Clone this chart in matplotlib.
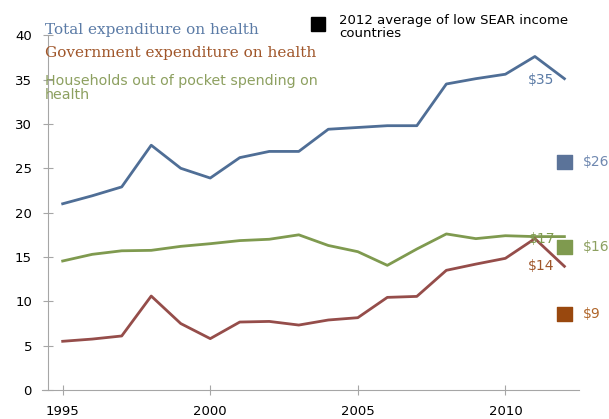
import matplotlib.pyplot as plt
plt.rcParams["font.family"] = "DejaVu Sans"

# Leta in vrednosti (USD na prebivalca)
years = list(range(1995, 2013))
total = [21.0, 21.9, 22.9, 27.6, 25.0, 23.9, 26.2, 26.9, 26.9, 29.4,
         29.6, 29.8, 29.8, 34.5, 35.1, 35.6, 37.6, 35.1]
government = [5.5, 5.75, 6.1, 10.6, 7.5, 5.8, 7.67, 7.74, 7.33, 7.9,
              8.16, 10.45, 10.56, 13.5, 14.2, 14.85, 17.07, 13.95]
households = [14.55, 15.3, 15.7, 15.75, 16.2, 16.5, 16.85, 17.0, 17.5, 16.3,
              15.6, 14.06, 15.9, 17.6, 17.07, 17.4, 17.3, 17.3]

# Povprečja 2012 za nizkodohodkovne države SEAR
sear_year = 2012
sear_values = [25.7, 16.1, 8.6]
sear_labels = ["$26", "$16", "$9"]

c_total = "#4F6E96"
c_gov = "#954D4A"
c_hh = "#7F9A4F"
c_total_txt = "#5B7BA6"
c_gov_txt = "#A0562A"
c_hh_txt = "#8DA060"
sq_colors = ["#5B7399", "#7F9A4F", "#99480E"]
lbl_colors = ["#6F88B0", "#8DA060", "#B0662A"]
grey = "#A6A6A6"

fig = plt.figure(figsize=(6.09, 4.19), dpi=100)
ax = fig.add_axes([0.069, 0.069, 0.882, 0.847])

ax.plot(years, total, color=c_total, lw=2)
ax.plot(years, households, color=c_hh, lw=2)
ax.plot(years, government, color=c_gov, lw=2)

ax.scatter([sear_year] * 3, sear_values, marker="s", s=105, c=sq_colors, zorder=3)
for v, lab, col in zip(sear_values, sear_labels, lbl_colors):
    ax.text(sear_year + 0.62, v, lab, color=col, fontsize=10, va="center", ha="left")

# Oznake zadnjih vrednosti
ax.text(2010.75, 35.0, "$35", color=c_total_txt, fontsize=10, va="center")
ax.text(2010.8, 17.0, "$17", color=c_hh, fontsize=10, va="center")
ax.text(2010.75, 14.0, "$14", color=c_gov_txt, fontsize=10, va="center")

ax.set_xlim(1994.3, 2012.5)
ax.set_ylim(0, 40)
ax.set_xticks([1995, 2000, 2005, 2010])
ax.set_yticks(range(0, 41, 5))
for s in ["top", "right"]:
    ax.spines[s].set_visible(False)
ax.spines["left"].set_position(("data", 1994.5))
for s in ["left", "bottom"]:
    ax.spines[s].set_color(grey)
ax.tick_params(direction="inout", length=7, color=grey, labelsize=9.5,
               colors=grey, labelcolor="black")
ax.tick_params(axis="y", pad=8)
ax.tick_params(axis="x", pad=7)

# Legenda kot besedilo
fig.text(45 / 609, 1 - 30 / 419, "Total expenditure on health", color=c_total_txt,
         family="DejaVu Serif", fontsize=11, va="center")
fig.text(45 / 609, 1 - 53 / 419, "Government expenditure on health", color=c_gov_txt,
         family="DejaVu Serif", fontsize=11, va="center")
fig.text(45 / 609, 1 - 88 / 419, "Households out of pocket spending on\nhealth",
         color=c_hh_txt, fontsize=10.3, va="center", linespacing=1.0)

fig.patches.append(plt.Rectangle((311 / 609, 1 - 31 / 419), 14 / 609, 14 / 419,
                                 transform=fig.transFigure, color="black"))
fig.text(339 / 609, 1 - 27 / 419, "2012 average of low SEAR income\ncountries",
         color="black", fontsize=9.5, va="center", linespacing=1.05)

fig.savefig("out.png", dpi=100)
